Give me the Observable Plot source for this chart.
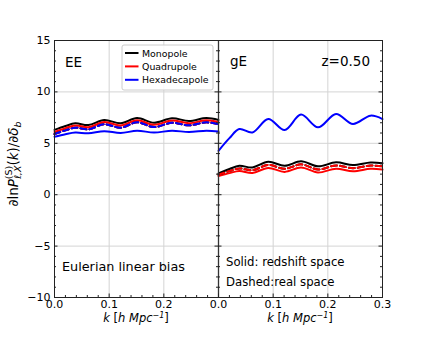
<!DOCTYPE html>
<html>
<head>
<meta charset="utf-8">
<script src="https://cdn.jsdelivr.net/npm/d3@7"></script>
<script src="https://cdn.jsdelivr.net/npm/@observablehq/plot@0.6"></script>
<style>
  html, body { margin: 0; padding: 0; background: white; }
  #chart { width: 424px; height: 339px; }
</style>
</head>
<body>
<div id="chart"></div>
<script>
// ---- data ----
const k = [0, 0.02, 0.038, 0.062, 0.091, 0.121, 0.151, 0.182, 0.215, 0.246, 0.278, 0.3];

// EE panel (Eulerian linear bias)
const eeMonopole     = [6.30, 6.68, 6.94, 6.78, 7.27, 6.94, 7.46, 7.00, 7.43, 7.17, 7.46, 7.27];
const eeQuadrupole   = [6.10, 6.47, 6.73, 6.57, 7.06, 6.73, 7.25, 6.80, 7.22, 6.96, 7.25, 7.06];
const eeRealSpace    = [5.90, 6.26, 6.52, 6.36, 6.85, 6.52, 7.04, 6.58, 7.00, 6.75, 7.04, 6.85];
const eeHexadecapole = [5.64, 5.88, 6.04, 5.98, 6.18, 6.00, 6.22, 6.05, 6.22, 6.10, 6.22, 6.15];

// gE panel
const geMonopole     = [2.06, 2.50, 2.81, 2.65, 3.20, 2.81, 3.25, 2.76, 3.15, 2.88, 3.14, 3.07];
const geQuadrupole   = [1.82, 2.10, 2.30, 2.12, 2.60, 2.22, 2.65, 2.16, 2.53, 2.27, 2.52, 2.45];
const geRealSpace    = [1.95, 2.30, 2.55, 2.38, 2.90, 2.52, 2.95, 2.46, 2.84, 2.58, 2.83, 2.76];
const geHexadecapole = [4.27, 5.50, 6.39, 6.06, 7.36, 6.29, 7.79, 6.55, 7.85, 6.88, 7.69, 7.36];

// ticks
const yTicks = [-10, -5, 0, 5, 10, 15];
const kTicks = [0, 0.1, 0.2, 0.3];
const panelNames = ["EE", "gE"];
const legendLabels = ["Monopole", "Quadrupole", "Hexadecapole"];
const legendColors = ["black", "red", "blue"];

// ---- build ----
const PANEL = 0.3; // width of one panel in k units; gE panel is offset by this
const rows = (vals, offset) => k.map((kk, i) => ({x: kk + offset, y: vals[i]}));

const W = 424, H = 339, mL = 54, mR = 42, mT = 40, mB = 42;
const pxX = (2 * PANEL) / (W - mL - mR);
const pxY = 25 / (H - mT - mB);

const xMajor = [...kTicks, ...kTicks.slice(1).map(d => d + PANEL)];
const xMinor = d3.range(0, 2 * PANEL + 1e-9, 0.02).filter(d => xMajor.every(m => Math.abs(m - d) > 1e-6));
const yMinor = d3.range(-10, 15.0001, 1).filter(d => !yTicks.includes(d));

const lineOpts = (stroke, dash) => ({x: "x", y: "y", stroke, strokeWidth: 2, curve: "catmull-rom", strokeDasharray: dash});
const tickCol = "#222";

const chart = Plot.plot({
  width: W, height: H,
  marginLeft: mL, marginRight: mR, marginTop: mT, marginBottom: mB,
  style: {fontFamily: "DejaVu Sans", fontSize: "11px", background: "white", color: "black"},
  x: {domain: [0, 2 * PANEL], axis: null},
  y: {domain: [-10, 15], axis: null},
  marks: [
    Plot.ruleX(xMajor.filter(d => d > 0 && Math.abs(d - PANEL) > 1e-6 && d < 2 * PANEL - 1e-6), {stroke: "#d4d4d4", strokeWidth: 1}),
    Plot.ruleY(yTicks.filter(d => d > -10 && d < 15), {stroke: "#d4d4d4", strokeWidth: 1}),
    // EE
    Plot.line(rows(eeMonopole, 0), lineOpts("black")),
    Plot.line(rows(eeQuadrupole, 0), lineOpts("red")),
    Plot.line(rows(eeHexadecapole, 0), lineOpts("blue")),
    Plot.line(rows(eeRealSpace, 0), lineOpts("black", "6,3")),
    Plot.line(rows(eeRealSpace, 0), lineOpts("red", "6,3")),
    Plot.line(rows(eeRealSpace, 0), lineOpts("blue", "6,3")),
    // gE
    Plot.line(rows(geMonopole, PANEL), lineOpts("black")),
    Plot.line(rows(geQuadrupole, PANEL), lineOpts("red")),
    Plot.line(rows(geHexadecapole, PANEL), lineOpts("blue")),
    Plot.line(rows(geRealSpace, PANEL), lineOpts("black", "6,3")),
    Plot.line(rows(geRealSpace, PANEL), lineOpts("red", "6,3")),
    // frame & divider
    Plot.frame({stroke: "#222", strokeWidth: 1}),
    Plot.ruleX([PANEL], {stroke: "#333", strokeWidth: 1.3}),
    // inward ticks: y major/minor on left, middle (both sides), right
    Plot.ruleY(yTicks, {x1: 0, x2: 3.5 * pxX, stroke: tickCol}),
    Plot.ruleY(yTicks, {x1: PANEL - 3.5 * pxX, x2: PANEL + 3.5 * pxX, stroke: tickCol}),
    Plot.ruleY(yTicks, {x1: 2 * PANEL - 3.5 * pxX, x2: 2 * PANEL, stroke: tickCol}),
    Plot.ruleY(yMinor, {x1: 0, x2: 2 * pxX, stroke: tickCol}),
    Plot.ruleY(yMinor, {x1: PANEL - 2 * pxX, x2: PANEL + 2 * pxX, stroke: tickCol}),
    Plot.ruleY(yMinor, {x1: 2 * PANEL - 2 * pxX, x2: 2 * PANEL, stroke: tickCol}),
    // x ticks on bottom
    Plot.ruleX(xMajor, {y1: -10, y2: -10 + 3.5 * pxY, stroke: tickCol}),
    Plot.ruleX(xMinor, {y1: -10, y2: -10 + 2 * pxY, stroke: tickCol}),
    // tick labels
    Plot.axisY({ticks: yTicks, tickSize: 0, tickPadding: 4, fontSize: 11, label: null,
      tickFormat: d => String(d).replace("-", "\u2212")}),
    Plot.axisX({ticks: xMajor, tickSize: 0, tickPadding: 3, fontSize: 11, label: null,
      tickFormat: d => (d >= PANEL - 1e-6 ? d - PANEL : d).toFixed(1)})
  ]
});

document.getElementById("chart").appendChild(chart);

// ---- annotations, legend, axis titles ----
const svg = d3.select(chart);
const g = svg.append("g").attr("font-family", "DejaVu Sans").attr("fill", "black").attr("text-anchor", "start");

function txt(x, y, s, size, anchor = "start") {
  return g.append("text").attr("x", x).attr("y", y).attr("font-size", size)
    .attr("text-anchor", anchor).text(s);
}
txt(65, 67, panelNames[0], 13.5);
txt(230, 66, panelNames[1], 13.5);
txt(370, 66, "z=0.50", 13.5, "end");
txt(62, 271, "Eulerian linear bias", 12.8);
txt(226, 266, "Solid: redshift space", 11.7);
txt(226, 286, "Dashed:real space", 11.7);

// legend
const lg = g.append("g");
lg.append("rect").attr("x", 122).attr("y", 45).attr("width", 91).attr("height", 45)
  .attr("rx", 2).attr("fill", "white").attr("fill-opacity", 0.85).attr("stroke", "#cccccc");
legendLabels.forEach((lab, i) => {
  const cy = 53 + i * 13.4;
  lg.append("line").attr("x1", 125).attr("x2", 138.5).attr("y1", cy).attr("y2", cy)
    .attr("stroke", legendColors[i]).attr("stroke-width", 2);
  lg.append("text").attr("x", 142).attr("y", cy + 3.5).attr("font-size", 9.4)
    .attr("text-anchor", "start").text(lab);
});

// x axis titles
function kLabel(cx) {
  const t = g.append("text").attr("x", cx).attr("y", 322).attr("font-size", 11.5).attr("text-anchor", "middle");
  t.append("tspan").attr("font-style", "italic").text("k");
  t.append("tspan").text(" [");
  t.append("tspan").attr("font-style", "italic").text("h Mpc");
  t.append("tspan").attr("font-style", "italic").attr("font-size", 8).attr("dy", -4.5).text("\u22121");
  t.append("tspan").attr("dy", 4.5).text("]");
}
kLabel(136);
kLabel(300);

// y axis title
const yl = g.append("text").attr("transform", "translate(17.5,164) rotate(-90)")
  .attr("text-anchor", "middle").attr("font-size", 13.5);
yl.append("tspan").text("\u2202ln");
yl.append("tspan").attr("font-style", "italic").text("P");
yl.append("tspan").attr("font-size", 9.5).attr("dy", -5.5).text("(S)");
yl.append("tspan").attr("font-size", 9.5).attr("font-style", "italic").attr("dx", -13.4).attr("dy", 9).text("\u2113,X");
yl.append("tspan").attr("dy", -3.5).text("(");
yl.append("tspan").attr("font-style", "italic").text("k");
yl.append("tspan").text(")/\u2202");
yl.append("tspan").attr("font-style", "italic").text("\u03b4");
yl.append("tspan").attr("font-style", "italic").attr("font-size", 9.5).attr("dy", 3).text("b");
</script>
</body>
</html>
